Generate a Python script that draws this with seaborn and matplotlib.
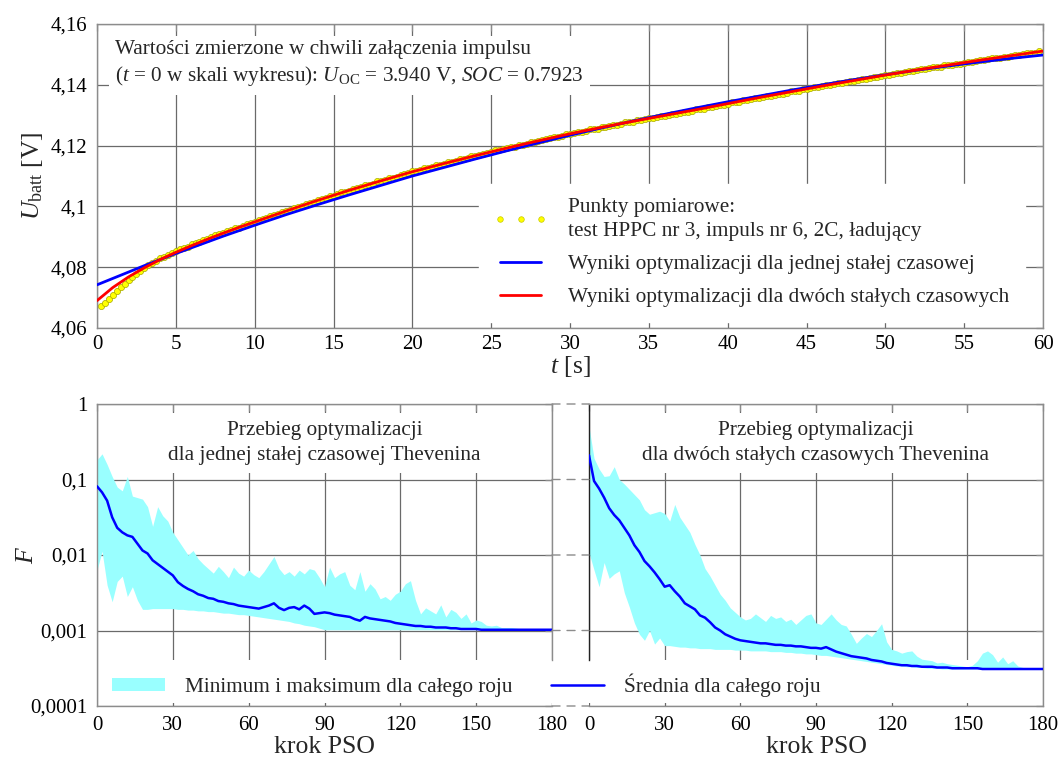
import numpy as np
import pandas as pd
import matplotlib
matplotlib.use("Agg")
import matplotlib.pyplot as plt
import seaborn as sns
from matplotlib.lines import Line2D
from matplotlib.patches import Patch, Rectangle, ConnectionPatch
from matplotlib.ticker import NullLocator

# ---------------- data: top panel ----------------
t_meas = np.arange(0.25, 59.76, 0.25)
u_meas = [
    4.0674, 4.0682, 4.0694, 4.0709, 4.0722, 4.0734, 4.0746, 4.0757,
    4.0769, 4.0779, 4.0788, 4.0797, 4.0806, 4.0814, 4.0821, 4.0829,
    4.0834, 4.0841, 4.0848, 4.0852, 4.0859, 4.0864, 4.0868, 4.0875,
    4.0880, 4.0884, 4.0890, 4.0894, 4.0898, 4.0905, 4.0909, 4.0911,
    4.0918, 4.0921, 4.0928, 4.0930, 4.0935, 4.0942, 4.0944, 4.0948,
    4.0955, 4.0957, 4.0962, 4.0969, 4.0971, 4.0975, 4.0983, 4.0984,
    4.0988, 4.0995, 4.0997, 4.1001, 4.1008, 4.1010, 4.1014, 4.1021,
    4.1023, 4.1027, 4.1034, 4.1035, 4.1040, 4.1046, 4.1047, 4.1052,
    4.1058, 4.1060, 4.1064, 4.1070, 4.1071, 4.1075, 4.1082, 4.1083,
    4.1087, 4.1093, 4.1094, 4.1098, 4.1104, 4.1105, 4.1109, 4.1115,
    4.1116, 4.1120, 4.1126, 4.1126, 4.1130, 4.1136, 4.1137, 4.1140,
    4.1145, 4.1147, 4.1150, 4.1156, 4.1156, 4.1160, 4.1165, 4.1166,
    4.1169, 4.1174, 4.1175, 4.1179, 4.1184, 4.1185, 4.1188, 4.1193,
    4.1194, 4.1197, 4.1203, 4.1203, 4.1206, 4.1211, 4.1212, 4.1215,
    4.1220, 4.1221, 4.1224, 4.1229, 4.1229, 4.1232, 4.1237, 4.1238,
    4.1241, 4.1245, 4.1246, 4.1248, 4.1253, 4.1254, 4.1256, 4.1261,
    4.1262, 4.1264, 4.1269, 4.1269, 4.1272, 4.1276, 4.1277, 4.1279,
    4.1283, 4.1284, 4.1286, 4.1291, 4.1291, 4.1293, 4.1298, 4.1298,
    4.1300, 4.1305, 4.1305, 4.1308, 4.1312, 4.1312, 4.1315, 4.1319,
    4.1320, 4.1322, 4.1327, 4.1327, 4.1330, 4.1334, 4.1335, 4.1337,
    4.1342, 4.1342, 4.1345, 4.1349, 4.1350, 4.1352, 4.1357, 4.1357,
    4.1359, 4.1364, 4.1364, 4.1367, 4.1371, 4.1371, 4.1374, 4.1378,
    4.1378, 4.1381, 4.1385, 4.1386, 4.1388, 4.1392, 4.1393, 4.1395,
    4.1399, 4.1400, 4.1402, 4.1406, 4.1406, 4.1409, 4.1413, 4.1413,
    4.1415, 4.1420, 4.1420, 4.1422, 4.1426, 4.1427, 4.1429, 4.1433,
    4.1433, 4.1435, 4.1439, 4.1440, 4.1442, 4.1446, 4.1446, 4.1448,
    4.1452, 4.1452, 4.1454, 4.1458, 4.1458, 4.1460, 4.1464, 4.1464,
    4.1466, 4.1470, 4.1470, 4.1472, 4.1476, 4.1476, 4.1478, 4.1482,
    4.1482, 4.1484, 4.1488, 4.1488, 4.1489, 4.1493, 4.1493, 4.1495,
    4.1499, 4.1499, 4.1501, 4.1505, 4.1504, 4.1506, 4.1510,
]
t_model = [0, 1, 2, 3, 4, 5, 6, 7, 8, 9, 10, 12, 14, 16, 18, 20, 22, 24,
           26, 28, 30, 32, 34, 36, 38, 40, 42, 44, 46, 48, 50, 52, 54, 56,
           58, 60]
u_one_tau = [4.0742, 4.0763, 4.0784, 4.0805, 4.0825, 4.0845, 4.0864, 4.0883,
             4.0902, 4.0920, 4.0938, 4.0973, 4.1006, 4.1038, 4.1069, 4.1100,
             4.1128, 4.1156, 4.1183, 4.1209, 4.1234, 4.1258, 4.1281, 4.1303,
             4.1324, 4.1344, 4.1363, 4.1382, 4.1400, 4.1417, 4.1433, 4.1448,
             4.1462, 4.1475, 4.1487, 4.1498]
u_two_tau = [4.0690, 4.0733, 4.0768, 4.0798, 4.0825, 4.0849, 4.0871, 4.0892,
             4.0912, 4.0931, 4.0949, 4.0985, 4.1020, 4.1053, 4.1084, 4.1114,
             4.1141, 4.1167, 4.1192, 4.1216, 4.1239, 4.1260, 4.1280, 4.1299,
             4.1318, 4.1338, 4.1358, 4.1377, 4.1396, 4.1414, 4.1432, 4.1449,
             4.1465, 4.1481, 4.1496, 4.1511]
top_xticks = list(range(0, 61, 5))
top_yticks = [4.06, 4.08, 4.10, 4.12, 4.14, 4.16]
top_yticklabels = ["4,06", "4,08", "4,1", "4,12", "4,14", "4,16"]

# ---------------- data: bottom panels (log10 F, every 2nd PSO step) ----------------
pso_step = np.arange(0, 181, 2)
left_mean_log = [
    -1.09, -1.17, -1.28, -1.50, -1.64, -1.70, -1.74, -1.76, -1.85, -1.94,
    -1.98, -2.07, -2.12, -2.17, -2.22, -2.27, -2.36, -2.41, -2.45, -2.48,
    -2.52, -2.54, -2.57, -2.58, -2.61, -2.62, -2.64, -2.65, -2.67, -2.68,
    -2.69, -2.70, -2.71, -2.69, -2.67, -2.64, -2.70, -2.73, -2.70, -2.69,
    -2.72, -2.67, -2.71, -2.78, -2.77, -2.76, -2.77, -2.79, -2.80, -2.81,
    -2.82, -2.85, -2.87, -2.82, -2.84, -2.85, -2.86, -2.87, -2.88, -2.90,
    -2.91, -2.92, -2.93, -2.94, -2.94, -2.95, -2.95, -2.96, -2.96, -2.96,
    -2.97, -2.97, -2.98, -2.98, -2.98, -2.98, -2.99, -2.99, -2.99, -2.99,
    -2.99, -2.99, -2.99, -2.99, -2.99, -2.99, -2.99, -2.99, -2.99, -2.99,
    -2.99,
]
left_max_log = [
    -0.74, -0.66, -0.80, -0.96, -1.10, -1.15, -0.96, -1.22, -1.24, -1.26,
    -1.36, -1.62, -1.36, -1.48, -1.55, -1.70, -1.80, -1.90, -2.00, -1.94,
    -2.05, -2.12, -2.18, -2.24, -2.15, -2.22, -2.30, -2.16, -2.24, -2.28,
    -2.20, -2.26, -2.30, -2.22, -2.12, -2.02, -2.18, -2.26, -2.22, -2.28,
    -2.20, -2.25, -2.18, -2.20, -2.30, -2.42, -2.16, -2.30, -2.25, -2.22,
    -2.40, -2.46, -2.22, -2.48, -2.38, -2.45, -2.58, -2.55, -2.60, -2.52,
    -2.48, -2.38, -2.34, -2.60, -2.78, -2.70, -2.74, -2.78, -2.66, -2.82,
    -2.72, -2.76, -2.84, -2.78, -2.90, -2.86, -2.88, -2.93, -2.94, -2.93,
    -2.96, -2.96, -2.96, -2.97, -2.98, -2.98, -2.99, -2.99, -2.99, -2.99,
    -2.99,
]
left_min_log = [
    -2.20, -1.95, -2.40, -2.62, -2.35, -2.28, -2.55, -2.42, -2.60, -2.72,
    -2.72, -2.71, -2.71, -2.71, -2.71, -2.71, -2.72, -2.72, -2.73, -2.73,
    -2.74, -2.74, -2.75, -2.75, -2.76, -2.77, -2.77, -2.78, -2.79, -2.79,
    -2.80, -2.81, -2.82, -2.83, -2.84, -2.85, -2.86, -2.87, -2.88, -2.90,
    -2.91, -2.93, -2.94, -2.95, -2.97, -2.99, -2.99, -2.99, -2.99, -2.99,
    -2.99, -2.99, -2.99, -2.99, -2.99, -2.99, -2.99, -2.99, -2.99, -2.99,
    -2.99, -2.99, -2.99, -2.99, -2.99, -2.99, -2.99, -2.99, -2.99, -2.99,
    -2.99, -2.99, -2.99, -2.99, -2.99, -2.99, -2.99, -2.99, -2.99, -2.99,
    -2.99, -2.99, -2.99, -2.99, -2.99, -2.99, -2.99, -2.99, -2.99, -2.99,
    -2.99,
]
right_mean_log = [
    -0.68, -1.02, -1.12, -1.24, -1.38, -1.47, -1.54, -1.64, -1.74, -1.87,
    -1.96, -2.08, -2.15, -2.23, -2.32, -2.42, -2.40, -2.48, -2.55, -2.64,
    -2.68, -2.72, -2.80, -2.83, -2.89, -2.96, -3.00, -3.05, -3.08, -3.11,
    -3.13, -3.14, -3.15, -3.16, -3.17, -3.17, -3.18, -3.19, -3.19, -3.20,
    -3.20, -3.21, -3.21, -3.22, -3.23, -3.23, -3.24, -3.22, -3.25, -3.28,
    -3.30, -3.32, -3.34, -3.35, -3.36, -3.37, -3.39, -3.40, -3.41, -3.43,
    -3.44, -3.45, -3.46, -3.46, -3.47, -3.47, -3.48, -3.48, -3.48, -3.49,
    -3.49, -3.49, -3.50, -3.50, -3.50, -3.50, -3.50, -3.50, -3.51, -3.51,
    -3.51, -3.51, -3.51, -3.51, -3.51, -3.51, -3.51, -3.51, -3.51, -3.51,
    -3.51,
]
right_max_log = [
    -0.30, -0.72, -0.86, -0.96, -0.95, -0.83, -1.00, -1.06, -1.13, -1.20,
    -1.27, -1.40, -1.46, -1.44, -1.42, -1.45, -1.55, -1.33, -1.50, -1.60,
    -1.70, -1.86, -2.00, -2.18, -2.28, -2.40, -2.52, -2.60, -2.70, -2.76,
    -2.82, -2.86, -2.84, -2.78, -2.83, -2.88, -2.80, -2.84, -2.82, -2.88,
    -2.85, -2.92, -2.86, -2.80, -2.78, -2.90, -2.92, -2.85, -2.78, -2.86,
    -2.92, -2.94, -3.05, -3.17, -3.10, -3.04, -3.08, -3.00, -2.91, -3.15,
    -3.25, -3.27, -3.30, -3.28, -3.27, -3.34, -3.38, -3.39, -3.40, -3.43,
    -3.42, -3.44, -3.45, -3.46, -3.47, -3.48, -3.46, -3.40, -3.30, -3.27,
    -3.32, -3.42, -3.35, -3.44, -3.40, -3.47, -3.49, -3.50, -3.50, -3.51,
    -3.51,
]
right_min_log = [
    -1.97, -2.20, -2.42, -2.10, -2.31, -2.25, -2.21, -2.50, -2.69, -2.90,
    -3.05, -3.13, -3.00, -3.18, -3.10, -3.20, -3.20, -3.21, -3.22, -3.22,
    -3.23, -3.23, -3.24, -3.24, -3.24, -3.25, -3.25, -3.25, -3.25, -3.26,
    -3.26, -3.26, -3.27, -3.27, -3.27, -3.27, -3.28, -3.28, -3.28, -3.29,
    -3.29, -3.30, -3.30, -3.31, -3.31, -3.32, -3.33, -3.33, -3.34, -3.35,
    -3.36, -3.37, -3.38, -3.39, -3.40, -3.41, -3.42, -3.43, -3.44, -3.45,
    -3.46, -3.47, -3.47, -3.48, -3.48, -3.49, -3.49, -3.50, -3.50, -3.50,
    -3.51, -3.51, -3.51, -3.51, -3.51, -3.51, -3.51, -3.51, -3.51, -3.51,
    -3.51, -3.51, -3.51, -3.51, -3.51, -3.51, -3.51, -3.51, -3.51, -3.51,
    -3.51,
]
bottom_xticks = [0, 30, 60, 90, 120, 150, 180]
bottom_yticks = [1e-4, 1e-3, 1e-2, 1e-1, 1.0]
bottom_yticklabels = ["0,0001", "0,001", "0,01", "0,1", "1"]

# ---------------- texts ----------------
note_text = ("Wartości zmierzone w chwili załączenia impulsu\n"
             r"($t$ = 0 w skali wykresu): $U_{\mathrm{OC}}$ = 3.940 V, $SOC$ = 0.7923")
lbl_meas = "Punkty pomiarowe:\ntest HPPC nr 3, impuls nr 6, 2C, ładujący"
lbl_one = "Wyniki optymalizacji dla jednej stałej czasowej"
lbl_two = "Wyniki optymalizacji dla dwóch stałych czasowych"
title_left = "Przebieg optymalizacji\ndla jednej stałej czasowej Thevenina"
title_right = "Przebieg optymalizacji\ndla dwóch stałych czasowych Thevenina"
lbl_band = "Minimum i maksimum dla całego roju"
lbl_mean = "Średnia dla całego roju"

# ---------------- style ----------------
sns.set_theme(style="white")
plt.rcParams["font.family"] = ["Liberation Serif", "DejaVu Serif"]
plt.rcParams["mathtext.fontset"] = "custom"
plt.rcParams["mathtext.rm"] = "Liberation Serif"
plt.rcParams["mathtext.it"] = "Liberation Serif:italic"
plt.rcParams["mathtext.bf"] = "Liberation Serif:bold"
plt.rcParams["axes.unicode_minus"] = False

GRID = "#6a6a6a"
SPINE = "#8c8c8c"
CYAN = "#99ffff"
BLUE = "#0000ff"
RED = "#ff0000"
TXT = 15.3
TICK = 15
LAB = 18.5

W, H = 1062, 765
fig = plt.figure(figsize=(W / 100, H / 100), dpi=100)


def fx(px):
    return px / W


def fy(py):
    return 1 - py / H


ax_top = fig.add_axes([fx(97), fy(328), fx(1043 - 97), (328 - 24) / H])
ax_l = fig.add_axes([fx(97), fy(706), fx(552 - 97), (706 - 404) / H])
ax_r = fig.add_axes([fx(589), fy(706), fx(1043 - 589), (706 - 404) / H])


def style_axes(ax):
    ax.set_axisbelow(True)
    ax.grid(True, color=GRID, lw=0.9)
    for s in ax.spines.values():
        s.set_color(SPINE)
        s.set_linewidth(1.0)
    ax.tick_params(direction="in", length=5, width=0.9, color=SPINE,
                   top=True, right=True, labelsize=TICK, pad=7,
                   labelcolor="black")


# ---------------- top panel ----------------
df_meas = pd.DataFrame({"t": t_meas, "u": u_meas})
df_model = pd.DataFrame({"t": t_model, "one": u_one_tau, "two": u_two_tau})

sns.scatterplot(data=df_meas, x="t", y="u", ax=ax_top, s=20, color="#ffff00",
                edgecolor="#a8a800", linewidth=0.5, zorder=2, legend=False)
sns.lineplot(data=df_model, x="t", y="one", ax=ax_top, color=BLUE, lw=2.0,
             estimator=None, sort=False, zorder=3, legend=False)
sns.lineplot(data=df_model, x="t", y="two", ax=ax_top, color=RED, lw=2.0,
             estimator=None, sort=False, zorder=4, legend=False)

style_axes(ax_top)
ax_top.tick_params(axis="x", pad=5)
ax_top.set_xlim(0, 60)
ax_top.set_ylim(4.06, 4.16)
ax_top.set_xticks(top_xticks)
ax_top.set_xticklabels([str(v) for v in top_xticks])
ax_top.set_yticks(top_yticks)
ax_top.set_yticklabels(top_yticklabels)
ax_top.set_xlabel(r"$t$ [s]", fontsize=LAB, labelpad=0)
ax_top.set_ylabel(r"$U_{\mathrm{batt}}$ [V]", fontsize=LAB)
ax_top.yaxis.set_label_coords(-0.055, 0.5)

ax_top.text(0.019, 0.868, note_text, transform=ax_top.transAxes, fontsize=TXT,
            ha="left", va="center", linespacing=1.32, zorder=5,
            bbox=dict(boxstyle="square,pad=0.3", fc="white", ec="none"))

h_meas = Line2D([], [], ls="none", marker="o", ms=4, mfc="#ffff00",
                mec="#c8c800", mew=0.5)
h_one = Line2D([], [], color=BLUE, lw=2.0)
h_two = Line2D([], [], color=RED, lw=2.0)
leg_top = ax_top.legend([h_meas, h_one, h_two], [lbl_meas, lbl_one, lbl_two],
                        loc="upper left", bbox_to_anchor=(0.404, 0.475),
                        fontsize=TXT, numpoints=3, handlelength=2.5,
                        handletextpad=1.0, labelspacing=0.62, borderpad=0.7,
                        borderaxespad=0, frameon=True, fancybox=False,
                        framealpha=1.0, facecolor="white", edgecolor="white")
for txt in leg_top.get_texts():
    txt.set_linespacing(1.35)
leg_top.set_zorder(6)

# ---------------- bottom panels ----------------
df_left = pd.DataFrame({"step": pso_step,
                        "mean": 10.0 ** np.array(left_mean_log),
                        "lo": 10.0 ** np.array(left_min_log),
                        "hi": 10.0 ** np.array(left_max_log)})
df_right = pd.DataFrame({"step": pso_step,
                         "mean": 10.0 ** np.array(right_mean_log),
                         "lo": 10.0 ** np.array(right_min_log),
                         "hi": 10.0 ** np.array(right_max_log)})

# white strip (axes fraction) behind the shared legend, above the grid
strip_y0 = (706 - 703) / 302
strip_y1 = (706 - 660) / 302

for ax, df, title, sx0, sx1 in [(ax_l, df_left, title_left, 0.004, 1.0),
                                (ax_r, df_right, title_right, 0.0, 0.996)]:
    ax.fill_between(df["step"], df["lo"], df["hi"], color=CYAN, lw=0, zorder=1)
    sns.lineplot(data=df, x="step", y="mean", ax=ax, color=BLUE, lw=1.8,
                 estimator=None, sort=False, zorder=3, legend=False)
    style_axes(ax)
    ax.set_yscale("log")
    ax.set_xlim(0, 180)
    ax.set_ylim(1e-4, 1)
    ax.set_xticks(bottom_xticks)
    ax.set_xticklabels([str(v) for v in bottom_xticks])
    ax.set_yticks(bottom_yticks)
    ax.yaxis.set_minor_locator(NullLocator())
    ax.set_xlabel("krok PSO", fontsize=LAB, labelpad=1)
    ax.text(0.5, 0.871, title, transform=ax.transAxes, fontsize=TXT,
            ha="center", va="center", linespacing=1.38, zorder=5,
            bbox=dict(boxstyle="square,pad=0.4", fc="white", ec="none"))
    ax.add_patch(Rectangle((sx0, strip_y0), sx1 - sx0, strip_y1 - strip_y0,
                           transform=ax.transAxes, fc="white", ec="none",
                           zorder=0.9))

# inner spines interrupted at the legend strip
f_cut = 10.0 ** (-4 + 4 * strip_y1)
ax_l.spines["right"].set_bounds(f_cut, 1.0)
ax_r.spines["left"].set_bounds(f_cut, 1.0)

ax_l.set_yticklabels(bottom_yticklabels)
ax_l.set_ylabel(r"$F$", fontsize=LAB)
ax_l.yaxis.set_label_coords(-0.13, 0.5)
ax_r.tick_params(labelleft=False)
ax_r.set_ylabel("")
ax_r.spines["left"].set_color("#222222")

# dashed connectors between the two bottom panels
for yv in bottom_yticks:
    con = ConnectionPatch(xyA=(180, yv), coordsA=ax_l.transData,
                          xyB=(0, yv), coordsB=ax_r.transData,
                          color=SPINE, lw=1.0, linestyle=(0, (5.8, 5.0)))
    fig.add_artist(con)

h_band = Patch(facecolor=CYAN, edgecolor="none")
h_mean = Line2D([], [], color=BLUE, lw=1.8)
leg_b = fig.legend([h_band, h_mean], [lbl_band, lbl_mean], loc="center left",
                   bbox_to_anchor=(fx(112), fy(685)), ncol=2, fontsize=TXT,
                   handlelength=2.5, handleheight=0.6, handletextpad=0.95,
                   columnspacing=1.8, borderpad=0, borderaxespad=0,
                   frameon=False)
leg_b.set_zorder(2)

fig.savefig("out.png", dpi=100)
